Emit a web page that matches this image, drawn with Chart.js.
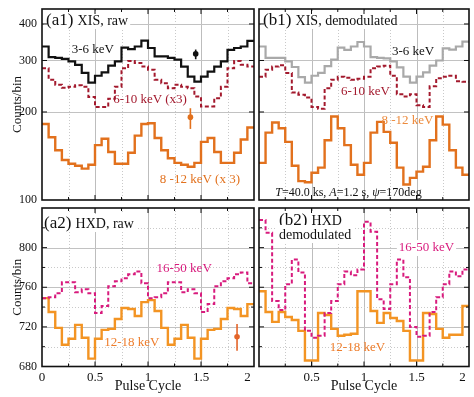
<!DOCTYPE html>
<html lang="en">
<head>
<meta charset="UTF-8" />
<title>XIS / HXD pulse profiles</title>
<script src="https://cdn.jsdelivr.net/npm/chart.js@4"></script>
<style>
  html, body { margin: 0; padding: 0; background: #fff; }
  #wrap { position: relative; width: 474px; height: 397px; }
  #wrap canvas { position: absolute; left: 0; top: 0; }
</style>
</head>
<body>
<div id="wrap">
  <canvas id="a1" width="474" height="397"></canvas>
  <canvas id="b1" width="474" height="397"></canvas>
  <canvas id="a2" width="474" height="397"></canvas>
  <canvas id="b2" width="474" height="397"></canvas>
</div>

<script>
  // 16 bins per pulse cycle, two cycles shown
  const phaseStep = 1 / 16;

  // (a1) XIS raw
  const xisRaw36  = [335, 308, 306, 304, 298, 290, 272, 252, 266, 273, 288, 298, 332, 328, 335, 351,
                     331, 310, 310, 306, 302, 286, 264, 254, 264, 275, 286, 298, 326, 331, 335, 350];
  const xisRaw610 = [282, 258, 248, 242, 244, 247, 244, 225, 208, 208, 222, 244, 282, 299, 294, 286,
                     279, 258, 251, 241, 248, 244, 241, 226, 209, 209, 223, 244, 282, 299, 290, 286];
  const xisRaw812 = [182, 164, 148, 137, 133, 131, 128, 132, 154, 162, 146, 133, 133, 145, 166, 182,
                     183, 163, 148, 139, 134, 132, 130, 134, 158, 163, 146, 134, 134, 145, 161, 177];
  // (b1) XIS demodulated
  const xisDem36  = [335, 306, 306, 306, 298, 285, 263, 252, 266, 272, 287, 302, 332, 326, 335, 347,
                     335, 308, 306, 305, 298, 284, 264, 252, 264, 273, 288, 300, 330, 327, 335, 348];
  const xisDem610 = [264, 279, 286, 289, 272, 233, 229, 224, 208, 205, 241, 258, 264, 262, 258, 260,
                     264, 282, 286, 288, 266, 230, 226, 230, 211, 208, 245, 261, 264, 266, 255, 254];
  const xisDem812 = [134, 170, 184, 176, 158, 131, 116, 115, 124, 129, 160, 193, 176, 154, 132, 122,
                     134, 170, 185, 171, 157, 129, 113, 119, 125, 130, 160, 193, 181, 148, 129, 122];
  // (a2) HXD raw
  const hxdRaw1650 = [749, 750, 754, 765, 765, 755, 758, 754, 734, 741, 761, 766, 769, 773, 776, 764,
                      749, 750, 754, 765, 765, 755, 758, 754, 735, 743, 761, 766, 769, 773, 775, 764];
  const hxdRaw1218 = [749, 735, 719, 702, 708, 722, 709, 688, 708, 717, 718, 728, 739, 738, 731, 745,
                      747, 736, 719, 702, 708, 722, 709, 688, 708, 717, 718, 728, 739, 738, 731, 743];
  // (b2) HXD demodulated
  const hxdDem1650 = [828, 815, 746, 737, 763, 788, 775, 716, 709, 711, 734, 746, 763, 776, 772, 778,
                      826, 816, 748, 738, 763, 788, 770, 720, 710, 711, 735, 750, 763, 776, 771, 778];
  const hxdDem1218 = [756, 735, 725, 735, 730, 727, 716, 686, 686, 734, 732, 718, 711, 712, 713, 756,
                      756, 736, 724, 734, 729, 726, 716, 686, 686, 734, 733, 718, 709, 712, 712, 741];

  // typical error bars: [xis 3-6, xis 8-12, hxd 12-18]
  const errPhase = [1.45, 1.40, 1.84];
  const errValue = [316, 192, 710];
  const errLow   = [303, 175, 696];
  const errHigh  = [327, 206, 723];

  const xisTicks = [100, 200, 300, 400];
  const hxdTicks = [680, 720, 760, 800];

  const FONT = "'Liberation Serif', 'DejaVu Serif', serif";
  const C = {
    black: '#111111', gray: '#a9a9a9', red: '#a3192d',
    orange: '#e2711d', orangeLt: '#f39423', magenta: '#d81b7d', errOrange: '#e4652a'
  };

  function steps(values) {
    const pts = values.map((v, i) => ({ x: i * phaseStep, y: v }));
    pts.push({ x: values.length * phaseStep, y: values[values.length - 1] });
    return pts;
  }

  function stepSet(values, color, width, dash) {
    return {
      data: steps(values), borderColor: color, borderWidth: width,
      borderDash: dash || [], stepped: true, pointRadius: 0, fill: false
    };
  }

  function errSet(i, color) {
    return {
      type: 'scatter', data: [{ x: errPhase[i], y: errValue[i] }],
      pointRadius: 2.8, pointBackgroundColor: color, pointBorderWidth: 0,
      errColor: color, err: [errLow[i], errHigh[i]]
    };
  }

  const T = (s, px, style) => [s, (style || '') + ' ' + px + 'px ' + FONT];

  // per-panel decoration: grid, frame ticks, texts
  const DECOR = {
    a1: {
      gridMajor: [200, 300, 400], gridMinor: [], tickMajor: [200, 300, 400], tickMinor: [],
      title: [T('(a1) ', 17), T('XIS, raw', 14)], titleAt: [4, 16],
      labels: [
        { runs: [T('3-6 keV', 13)], at: [0.48, 328], color: C.black },
        { runs: [T('6-10 keV (x3)', 13)], at: [1.02, 220], color: C.red },
        { runs: [T('8 -12 keV (x 3)', 13)], at: [1.49, 117], color: C.orange }
      ]
    },
    b1: {
      gridMajor: [200, 300, 400], gridMinor: [], tickMajor: [200, 300, 400], tickMinor: [],
      title: [T('(b1) ', 17), T('XIS, demodulated', 14)], titleAt: [4, 16],
      labels: [
        { runs: [T('3-6 keV', 13)], at: [1.467, 321], color: C.black },
        { runs: [T('6-10 keV', 13)], at: [1.014, 234], color: C.red },
        { runs: [T('8 -12 keV', 13)], at: [1.414, 186.5], color: '#ec8a3c' },
        { runs: [T('T', 12, 'italic'), T('=40.0 ks, ', 12), T('A', 12, 'italic'), T('=1.2 s, ', 12),
                 T('\u03C8', 12, 'italic'), T('=170deg', 12)], at: [0.852, 105.5], color: C.black }
      ]
    },
    a2: {
      gridMajor: [720, 760, 800], gridMinor: [700, 740, 780, 820],
      tickMajor: [720, 760, 800], tickMinor: [700, 740, 780, 820],
      title: [T('(a2) ', 17), T('HXD, raw', 14)], titleAt: [2, 20],
      labels: [
        { runs: [T('16-50 keV', 13)], at: [1.341, 778.5], color: C.magenta },
        { runs: [T('12-18 keV', 13)], at: [0.847, 704.6], color: '#ee7d2b' }
      ]
    },
    b2: {
      gridMajor: [720, 760, 800], gridMinor: [700, 740, 780, 820],
      tickMajor: [720, 760, 800], tickMinor: [700, 740, 780, 820],
      title: [T('(b2) ', 17), T('HXD', 14)], titleAt: [20, 17],
      title2: [T('demodulated', 14)], title2At: [20, 31],
      labels: [
        { runs: [T('16-50 keV', 13)], at: [1.595, 799.6], color: C.magenta, bg: true },
        { runs: [T('12-18 keV', 13)], at: [0.938, 699], color: '#ee7d2b' }
      ]
    }
  };

  function runsWidth(ctx, runs) {
    let w = 0;
    runs.forEach(r => { ctx.font = r[1]; w += ctx.measureText(r[0]).width; });
    return w;
  }
  function drawRuns(ctx, runs, x, y) {
    let cx = x;
    runs.forEach(r => { ctx.font = r[1]; ctx.fillText(r[0], cx, y); cx += ctx.measureText(r[0]).width; });
  }

  const panelDecor = {
    id: 'panelDecor',
    beforeDatasetsDraw(chart) {
      const d = DECOR[chart.canvas.id];
      const { ctx, chartArea: a, scales: { x, y } } = chart;
      ctx.save();
      ctx.lineWidth = 1;
      for (let k = 1; k < 8; k++) {
        const px = Math.round(x.getPixelForValue(k * 0.25)) + 0.5;
        ctx.strokeStyle = k % 2 ? '#c9c9c9' : '#bdbdbd';
        ctx.setLineDash(k % 2 ? [1, 2] : []);
        ctx.beginPath(); ctx.moveTo(px, a.top); ctx.lineTo(px, a.bottom); ctx.stroke();
      }
      const hline = (v, dotted) => {
        const py = Math.round(y.getPixelForValue(v)) + 0.5;
        ctx.strokeStyle = dotted ? '#c9c9c9' : '#c2c2c2';
        ctx.setLineDash(dotted ? [1, 2] : []);
        ctx.beginPath(); ctx.moveTo(a.left, py); ctx.lineTo(a.right, py); ctx.stroke();
      };
      d.gridMajor.forEach(v => hline(v, false));
      d.gridMinor.forEach(v => hline(v, true));
      ctx.restore();
    },
    afterDatasetsDraw(chart) {
      const d = DECOR[chart.canvas.id];
      const { ctx, chartArea: a, scales: { x, y } } = chart;
      ctx.save();

      // error bars
      chart.data.datasets.forEach(ds => {
        if (!ds.err) return;
        const px = x.getPixelForValue(ds.data[0].x);
        ctx.strokeStyle = ds.errColor; ctx.lineWidth = 1.6; ctx.setLineDash([]);
        ctx.beginPath();
        ctx.moveTo(px, y.getPixelForValue(ds.err[0]));
        ctx.lineTo(px, y.getPixelForValue(ds.err[1]));
        ctx.stroke();
      });

      // panel titles (white box behind)
      ctx.textBaseline = 'alphabetic';
      ctx.textAlign = 'left';
      [[d.title, d.titleAt], [d.title2, d.title2At]].forEach(([runs, at]) => {
        if (!runs) return;
        const w = runsWidth(ctx, runs);
        const tx = a.left + at[0], ty = a.top + at[1];
        ctx.fillStyle = '#fff';
        ctx.fillRect(tx - 2, ty - 14, w + 4, 18);
        ctx.fillStyle = C.black;
        drawRuns(ctx, runs, tx, ty);
      });

      // series labels
      ctx.textBaseline = 'middle';
      d.labels.forEach(l => {
        const w = runsWidth(ctx, l.runs);
        const cx = x.getPixelForValue(l.at[0]), cy = y.getPixelForValue(l.at[1]);
        if (l.bg) { ctx.fillStyle = '#fff'; ctx.fillRect(cx - w / 2 - 2, cy - 8, w + 4, 16); }
        ctx.fillStyle = l.color;
        drawRuns(ctx, l.runs, cx - w / 2, cy);
      });

      // inside ticks + frame
      ctx.strokeStyle = '#111'; ctx.lineWidth = 1; ctx.setLineDash([]);
      ctx.beginPath();
      for (let k = 1; k < 8; k++) {
        const px = x.getPixelForValue(k * 0.25), len = k % 2 ? 3 : 5;
        ctx.moveTo(px, a.bottom); ctx.lineTo(px, a.bottom - len);
        ctx.moveTo(px, a.top); ctx.lineTo(px, a.top + len);
      }
      const yt = (v, len) => {
        const py = y.getPixelForValue(v);
        ctx.moveTo(a.left, py); ctx.lineTo(a.left + len, py);
        ctx.moveTo(a.right, py); ctx.lineTo(a.right - len, py);
      };
      d.tickMajor.forEach(v => yt(v, 5));
      d.tickMinor.forEach(v => yt(v, 3));
      ctx.stroke();
      ctx.lineWidth = 1.6;
      ctx.strokeRect(a.left, a.top, a.right - a.left, a.bottom - a.top);
      ctx.restore();
    }
  };

  function phaseLabel(v, hideZero) {
    if (v === 0 && hideZero) return '';
    if (v === 2) return '2\u2003';   // last label sits just inside the frame
    return String(v);
  }

  function makePanel(id, opts) {
    const isLog = opts.log;
    return new Chart(document.getElementById(id), {
      type: 'line',
      data: { datasets: opts.datasets },
      options: {
        responsive: false,
        animation: false,
        devicePixelRatio: 1,
        layout: { padding: opts.padding },
        plugins: { legend: { display: false }, tooltip: { enabled: false } },
        scales: {
          x: {
            type: 'linear', min: 0, max: 2,
            display: opts.showX,
            grid: { display: false, drawTicks: false },
            border: { display: false },
            ticks: {
              stepSize: 0.5, padding: 3, color: '#111', maxRotation: 0,
              font: { family: FONT, size: 13 }, callback: v => phaseLabel(v, opts.hideZero)
            },
            title: {
              display: true, text: 'Pulse Cycle', color: '#111',
              font: { family: FONT, size: 14 }, padding: { top: 0, bottom: 2 }
            },
            afterFit: s => {
              s.height = opts.showX ? 30.5 : 0;
              s.paddingLeft = 0;
              s.paddingRight = 0;
            }
          },
          y: {
            type: isLog ? 'logarithmic' : 'linear',
            min: isLog ? 100 : 680, max: isLog ? 450 : 840,
            display: opts.showY,
            grid: { display: false, drawTicks: false },
            border: { display: false },
            afterBuildTicks: s => { s.ticks = (isLog ? xisTicks : hxdTicks).map(v => ({ value: v })); },
            ticks: { padding: 5, color: '#111', font: { family: FONT, size: 12 }, callback: v => String(v) },
            title: {
              display: true, text: 'Counts/bin', color: '#111',
              font: { family: FONT, size: 13 }, padding: { top: 10 }
            },
            afterFit: s => {
              s.width = opts.showY ? 42 : 0;
              s.paddingTop = 0;
              s.paddingBottom = 0;
            }
          }
        }
      },
      plugins: [panelDecor]
    });
  }

  makePanel('a1', {
    log: true, showX: false, showY: true,
    padding: { left: 0, top: 9, right: 220, bottom: 197 },
    datasets: [
      stepSet(xisRaw36, C.black, 2.2),
      stepSet(xisRaw610, C.red, 2, [4, 2.5]),
      stepSet(xisRaw812, C.orange, 2.4),
      errSet(0, C.black),
      errSet(1, C.orange)
    ]
  });

  makePanel('b1', {
    log: true, showX: false, showY: false,
    padding: { left: 259, top: 9, right: 5, bottom: 197 },
    datasets: [
      stepSet(xisDem36, C.gray, 2.2),
      stepSet(xisDem610, C.red, 2, [4, 2.5]),
      stepSet(xisDem812, C.orange, 2.4)
    ]
  });

  makePanel('a2', {
    log: false, showX: true, showY: true,
    padding: { left: 0, top: 208, right: 220, bottom: 0 },
    datasets: [
      stepSet(hxdRaw1650, C.magenta, 2, [4, 2.5]),
      stepSet(hxdRaw1218, C.orangeLt, 2.4),
      errSet(2, C.errOrange)
    ]
  });

  makePanel('b2', {
    log: false, showX: true, showY: false, hideZero: true,
    padding: { left: 259, top: 208, right: 5, bottom: 0 },
    datasets: [
      stepSet(hxdDem1650, C.magenta, 2, [4, 2.5]),
      stepSet(hxdDem1218, C.orangeLt, 2.4)
    ]
  });
</script>
</body>
</html>
